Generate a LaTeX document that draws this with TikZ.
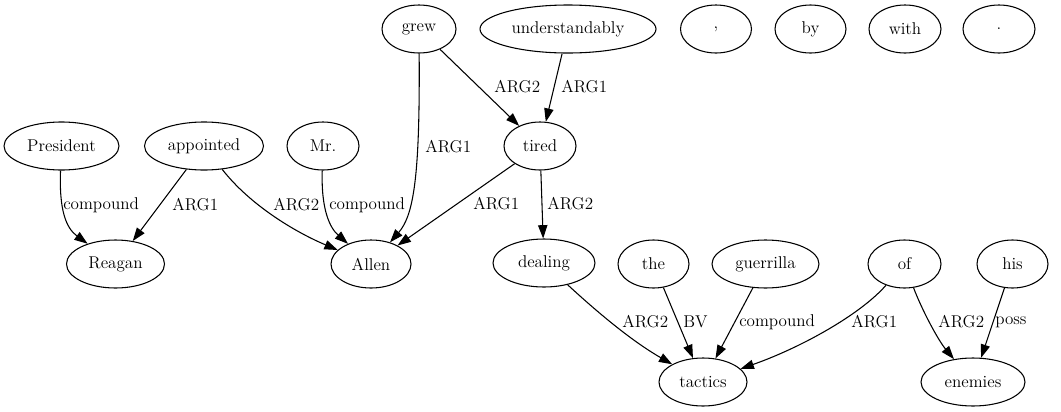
\documentclass[tikz,border=0pt]{standalone}
\usetikzlibrary{shapes.geometric,arrows.meta}
\begin{document}
\begin{tikzpicture}[x=0.75pt,y=-0.75pt,
  every node/.style={font=\rmfamily\fontsize{12.8}{15}\selectfont},
  nd/.style={ellipse,draw,line width=0.8pt,minimum height=36pt,minimum width=#1*0.75pt,inner sep=1pt},
  lbl/.style={anchor=west,inner sep=0pt},
  edge/.style={-{Triangle[length=10pt,width=7pt]},line width=0.8pt}]
\useasboundingbox (0,0) rectangle (1061,411);
\fill[white] (0,0) rectangle (1061,411);
% row 1
\node[nd=74] (grew) at (419,29) {grew};
\node[nd=176] (underst) at (568,29) {understandably};
\node[nd=71] (comma) at (716,29) {,};
\node[nd=71] (by) at (810.5,29) {by};
\node[nd=72] (with) at (905,29) {with};
\node[nd=72] (dot) at (999,29) {.};
% row 2
\node[nd=115] (president) at (61.5,146) {President};
\node[nd=119] (appointed) at (204,146) {appointed};
\node[nd=72] (mr) at (323,146) {Mr.};
\node[nd=72] (tired) at (540,146) {tired};
% row 3
\node[nd=98] (reagan) at (115.5,264) {Reagan};
\node[nd=80] (allen) at (371,264) {Allen};
\node[nd=102] (dealing) at (544,263) {dealing};
\node[nd=71] (the) at (653.5,264) {the};
\node[nd=107] (guerrilla) at (765.5,264) {guerrilla};
\node[nd=73] (of) at (904.5,264) {of};
\node[nd=71] (his) at (1012.5,264) {his};
% row 4
\node[nd=88] (tactics) at (703,382) {tactics};
\node[nd=104] (enemies) at (973,382) {enemies};
% edges
\draw[edge] (president) .. controls (59,210) and (66,228) .. (reagan);
\draw[edge] (appointed) -- (reagan);
\draw[edge] (appointed) .. controls (250,205) and (295,232) .. (allen);
\draw[edge] (mr) .. controls (321,210) and (330,228) .. (allen);
\draw[edge] (grew) .. controls (420,175) and (414,215) .. (allen);
\draw[edge] (grew) -- (tired);
\draw[edge] (underst) -- (tired);
\draw[edge] (tired) -- (allen);
\draw[edge] (tired) -- (dealing);
\draw[edge] (dealing) .. controls (595,310) and (630,340) .. (tactics);
\draw[edge] (the) -- (tactics);
\draw[edge] (guerrilla) -- (tactics);
\draw[edge] (of) .. controls (860,315) and (800,348) .. (tactics);
\draw[edge] (of) .. controls (922,310) and (938,340) .. (enemies);
\draw[edge] (his) -- (enemies);
% labels
\node[lbl] (l1) at (63,205) {compound};
\node[lbl] (l2) at (172,205) {ARG1};
\node[lbl] (l3) at (273,205) {ARG2};
\node[lbl] (l4) at (329,205) {compound};
\node[lbl] (l5) at (425,147) {ARG1};
\node[lbl] (l6) at (494,87) {ARG2};
\node[lbl] (l7) at (561,87) {ARG1};
\node[lbl] (l8) at (473,204) {ARG1};
\node[lbl] (l9) at (547,204) {ARG2};
\node[lbl] (l10) at (622,322) {ARG2};
\node[lbl] (l11) at (683,322) {BV};
\node[lbl] (l12) at (739,322) {compound};
\node[lbl] (l13) at (851,322) {ARG1};
\node[lbl] (l14) at (938,322) {ARG2};
\node[lbl] (l15) at (995,322) {poss};
\end{tikzpicture}
\end{document}
